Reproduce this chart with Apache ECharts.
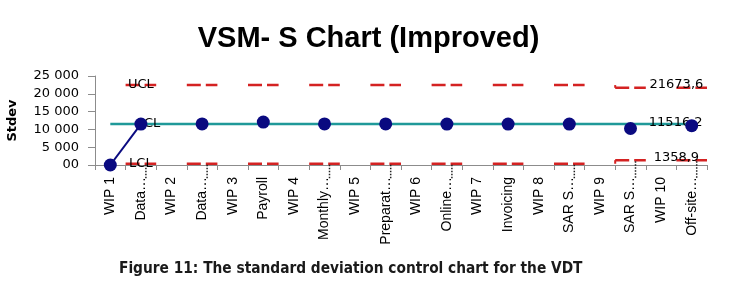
<!DOCTYPE html>
<html>
<head>
<meta charset="utf-8">
<script src="https://cdn.jsdelivr.net/npm/echarts@6/dist/echarts.min.js"></script>
<style>
  html, body { margin: 0; padding: 0; background: #fff; }
  #chart { width: 737px; height: 283px; }
</style>
</head>
<body>
<div id="chart"></div>
<script>
// categories along the process (WIP buffers between activities)
const categories = ['WIP 1', 'Data…', 'WIP 2', 'Data…', 'WIP 3', 'Payroll', 'WIP 4', 'Monthly…', 'WIP 5', 'Preparat…',
	'WIP 6', 'Online…', 'WIP 7', 'Invoicing', 'WIP 8', 'SAR S…', 'WIP 9', 'SAR S…', 'WIP 10', 'Off-site…'];

// standard deviation per category (null = no value)
const stdev = [0, 11500, null, 11550, null, 12050, null, 11550, null, 11550,
	null, 11500, null, 11500, null, 11500, null, 10250, null, 11050];

const clValue = 11516.2;
// control limits, only for the activities: [category index, value]
const ucl = [[1, 22450], [3, 22450], [5, 22450], [7, 22450], [9, 22450], [11, 22450], [13, 22450], [15, 22450], [17, 21673.6], [19, 21673.6]];
const lcl = [[1, 350], [3, 350], [5, 350], [7, 350], [9, 350], [11, 350], [13, 350], [15, 350], [17, 1358.9], [19, 1358.9]];
// activities that show a small dotted drop line under the LCL
const dropLines = [1, 3, 7, 9, 11, 15, 17, 19];

const yTickLabels = ['00', '5 000', '10 000', '15 000', '20 000', '25 000'];

const font = 'DejaVu Sans';

function fmt(v) {
	return v.toFixed(1).replace('.', ',');
}

// horizontal dashed segment across the band of each activity
function limitRender(data, name, drops) {
	return function (params, api) {
		let i = params.dataIndex;
		let cat = api.value(0);
		let p = api.coord([cat, api.value(1)]);
		let w = api.size([1, 0])[0];
		let x0 = p[0] - w / 2,
			x1 = p[0] + w / 2;
		let children = [{
			type: 'line',
			shape: { x1: x0, y1: p[1], x2: x1, y2: p[1] },
			style: { stroke: '#d42222', lineWidth: 2.5, lineDash: [14, 5] }
		}];
		if (i > 0 && data[i - 1][1] !== data[i][1]) {
			let prev = api.coord([cat, data[i - 1][1]]);
			children.push({
				type: 'line',
				shape: { x1: x0, y1: prev[1], x2: x0, y2: p[1] },
				style: { stroke: '#d42222', lineWidth: 2 }
			});
		}
		if (drops && drops.indexOf(cat) >= 0) {
			let base = api.coord([cat, 0]);
			children.push({
				type: 'line',
				shape: { x1: p[0] + 5, y1: p[1] + 1, x2: p[0] + 5, y2: base[1] + 14 },
				style: { stroke: '#222', lineWidth: 1.5, lineDash: [1.5, 1.5] }
			});
		}
		if (i === 0) {
			children.push({
				type: 'text',
				x: p[0], y: p[1],
				style: { text: name, fill: '#000', font: '13px "' + font + '"', align: 'center', verticalAlign: 'middle' }
			});
		}
		if (i === data.length - 1) {
			children.push({
				type: 'text',
				x: x0, y: p[1] - 3,
				style: { text: fmt(data[i][1]), fill: '#000', font: '13px "' + font + '"', align: 'center', verticalAlign: 'middle' }
			});
		}
		return { type: 'group', children: children };
	};
}

let clData = categories.map(function (c, i) {
	if (i === 1) {
		return { value: clValue, label: { show: true, formatter: 'CL', position: 'right', distance: 3 } };
	}
	if (i === categories.length - 1) {
		return { value: clValue, label: { show: true, formatter: fmt(clValue), position: 'inside', offset: [-16, -1] } };
	}
	return clValue;
});

let chart = echarts.init(document.getElementById('chart'));
let option = {
	animation: false,
	textStyle: { fontFamily: font },
	title: {
		text: 'VSM- S Chart (Improved)',
		left: 'center',
		top: 19,
		textStyle: { fontFamily: 'Liberation Sans', fontWeight: 'bold', fontSize: 29, color: '#000' }
	},
	graphic: [{
		type: 'text',
		x: 119,
		y: 262,
		style: {
			text: 'Figure 11: The standard deviation control chart for the VDT',
			font: 'bold 15.3px "DejaVu Sans Condensed", "DejaVu Sans"',
			fill: '#1a1a1a'
		}
	}],
	grid: { left: 95, right: 30, top: 76, bottom: 118, outerBoundsMode: 'none' },
	xAxis: {
		type: 'category',
		data: categories,
		boundaryGap: true,
		axisLine: { lineStyle: { color: '#8c8c8c', width: 1 } },
		axisTick: { show: true, length: 5, lineStyle: { color: '#8c8c8c' } },
		axisLabel: { rotate: 90, margin: 12, color: '#000', fontFamily: 'Liberation Sans', fontSize: 14, interval: 0 }
	},
	yAxis: {
		type: 'value',
		min: 0,
		max: 25000,
		interval: 5000,
		name: 'Stdev',
		nameLocation: 'middle',
		nameRotate: 90,
		nameGap: 76,
		nameTextStyle: { fontFamily: font, fontWeight: 'bold', fontSize: 13, color: '#000' },
		splitLine: { show: false },
		axisLine: { show: true, lineStyle: { color: '#8c8c8c' } },
		axisTick: { show: true, length: 7, lineStyle: { color: '#8c8c8c' } },
		axisLabel: {
			margin: 16, color: '#000', fontFamily: font, fontSize: 13,
			formatter: function (v) { return yTickLabels[Math.round(v / 5000)]; }
		}
	},
	series: [{
			name: 'UCL',
			type: 'custom',
			renderItem: limitRender(ucl, 'UCL'),
			encode: { x: 0, y: 1 },
			data: ucl,
			z: 2
		},
		{
			name: 'LCL',
			type: 'custom',
			renderItem: limitRender(lcl, 'LCL', dropLines),
			encode: { x: 0, y: 1 },
			data: lcl,
			z: 2
		},
		{
			name: 'CL',
			type: 'line',
			data: clData,
			symbol: 'circle',
			symbolSize: 0,
			showSymbol: true,
			lineStyle: { color: '#1f9999', width: 2.5 },
			itemStyle: { color: '#1f9999' },
			label: { color: '#000', fontFamily: font, fontSize: 13 },
			z: 3
		},
		{
			name: 'Stdev',
			type: 'line',
			data: stdev,
			connectNulls: false,
			symbol: 'circle',
			symbolSize: 13,
			lineStyle: { color: '#0a0a80', width: 2 },
			itemStyle: { color: '#0a0a80' },
			z: 4
		}
	]
};
chart.setOption(option);
</script>
</body>
</html>
